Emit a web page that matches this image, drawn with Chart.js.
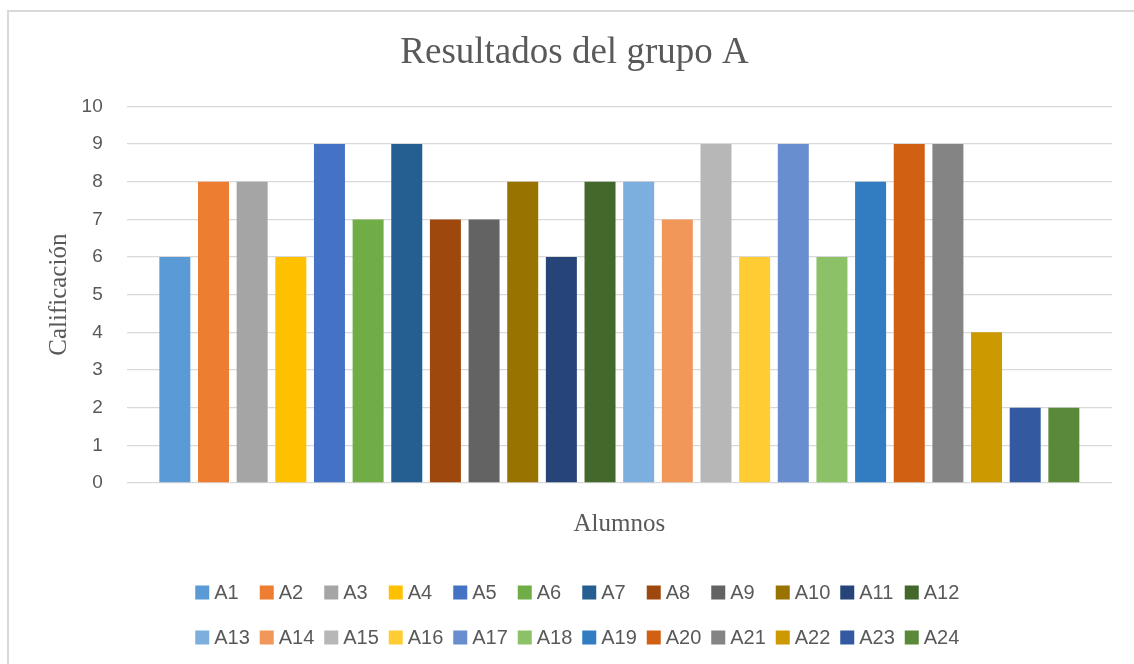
<!DOCTYPE html>
<html>
<head>
<meta charset="utf-8">
<script src="https://cdn.jsdelivr.net/npm/chart.js@4/dist/chart.umd.min.js"></script>
<style>
  html, body { margin: 0; padding: 0; background: #fff; overflow: hidden; width: 1134px; height: 664px; }
  #frame {
    position: absolute; left: 7px; top: 10px; width: 1150px; height: 660px;
    border-top: 2px solid #d9d9d9; border-left: 2px solid #d9d9d9; background: #fff;
  }
  #chart { position: absolute; left: 0; top: 0; }
</style>
</head>
<body>
<div id="frame"><canvas id="chart" width="1136" height="652"></canvas></div>
<script>
// data
const alumnos = ['A1', 'A2', 'A3', 'A4', 'A5', 'A6', 'A7', 'A8', 'A9', 'A10', 'A11', 'A12',
                 'A13', 'A14', 'A15', 'A16', 'A17', 'A18', 'A19', 'A20', 'A21', 'A22', 'A23', 'A24'];
const calificaciones = [6, 8, 8, 6, 9, 7, 9, 7, 7, 8, 6, 8,
                        8, 7, 9, 6, 9, 6, 8, 9, 9, 4, 2, 2];
const yTicks = [0, 1, 2, 3, 4, 5, 6, 7, 8, 9, 10];

const colores = ['#5B9BD5', '#ED7D31', '#A5A5A5', '#FFC000', '#4472C4', '#70AD47',
                 '#255E91', '#9E480E', '#636363', '#997300', '#264478', '#43682B',
                 '#7CAFDD', '#F1975A', '#B7B7B7', '#FFCD33', '#698ED0', '#8CC168',
                 '#327DC2', '#D26012', '#848484', '#CC9A00', '#335AA1', '#5A8A39'];

const textGray = '#595959';
const gridGray = '#d9d9d9';
const sans = '"Liberation Sans", Arial, sans-serif';
const serif = '"Liberation Serif", "Times New Roman", serif';

let datasets = alumnos.map((name, i) => ({
    label: name,
    data: [calificaciones[i]],
    backgroundColor: colores[i],
    borderWidth: 0,
    categoryPercentage: 0.9415,
    barPercentage: 0.802
}));

// Excel-style legend: fixed pitch, 12 items per row
let excelLegend = {
    id: 'excelLegend',
    afterDraw(chart) {
        let ctx = chart.ctx;
        let perRow = 12, pitch = 64.5, box = 14, itemW = 54;
        let rowsY = [580.5, 625.5];
        let left0 = chart.width / 2 - ((perRow - 1) * pitch + itemW) / 2;
        ctx.save();
        ctx.font = '20px ' + sans;
        ctx.textBaseline = 'middle';
        ctx.textAlign = 'left';
        chart.data.datasets.forEach((ds, i) => {
            let row = Math.floor(i / perRow);
            let col = i % perRow;
            let x = left0 + col * pitch;
            let y = rowsY[row];
            ctx.fillStyle = ds.backgroundColor;
            ctx.fillRect(x, y - box / 2, box, box);
            ctx.fillStyle = textGray;
            ctx.fillText(ds.label, x + box + 5, y + 1);
        });
        ctx.restore();
    }
};

new Chart(document.getElementById('chart'), {
    type: 'bar',
    data: { labels: [''], datasets: datasets },
    plugins: [excelLegend],
    options: {
        responsive: false,
        animation: false,
        layout: { padding: { left: 28, right: 33, top: 0, bottom: 125 } },
        plugins: {
            legend: { display: false },
            tooltip: { enabled: false },
            title: {
                display: true,
                text: 'Resultados del grupo A',
                color: textGray,
                font: { family: serif, size: 37, weight: 'normal' },
                padding: { top: 19, bottom: 31 }
            }
        },
        scales: {
            x: {
                grid: { display: false },
                border: { display: false },
                ticks: { display: false },
                title: {
                    display: true,
                    text: 'Alumnos',
                    color: textGray,
                    font: { family: serif, size: 25 },
                    padding: { top: 0, bottom: 0 }
                },
                afterFit(scale) { scale.height = 56; }
            },
            y: {
                min: 0,
                max: 10,
                afterBuildTicks(scale) { scale.ticks = yTicks.map(v => ({ value: v })); },
                grid: { color: gridGray, lineWidth: 1.3, drawTicks: false },
                border: { display: false },
                ticks: {
                    color: textGray,
                    padding: 24,
                    font: { family: sans, size: 19 }
                },
                title: {
                    display: true,
                    text: 'Calificación',
                    color: textGray,
                    font: { family: serif, size: 25 },
                    padding: { top: 7, bottom: 0 }
                },
                afterFit(scale) { scale.width = 89.7; }
            }
        }
    }
});
</script>
</body>
</html>
